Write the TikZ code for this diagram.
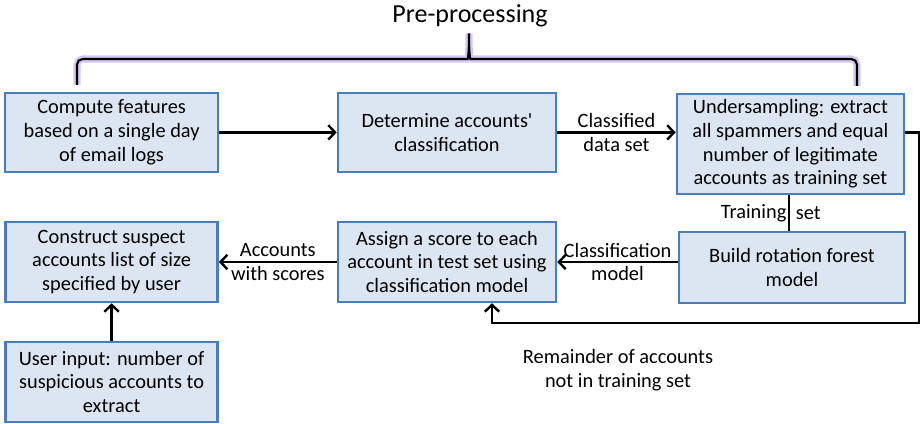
\documentclass[tikz,border=0pt]{standalone}
\usepackage{fontspec}
\setmainfont{Carlito}
\usetikzlibrary{arrows.meta}
\definecolor{boxfill}{HTML}{DCE6F2}
\definecolor{boxline}{HTML}{4A7EBB}
\definecolor{glow}{HTML}{B9A3E3}

\begin{document}
\begin{tikzpicture}[
    stepbox/.style={draw=boxline,fill=boxfill,line width=1.8pt,inner sep=0pt,
      align=center,font=\fontsize{14.5}{16.9}\selectfont},
    arr/.style={draw=black,line width=1.7pt,-{Straight Barb[length=1.7mm,width=3.6mm]}},
    link/.style={draw=black,line width=1.7pt},
    lbl/.style={align=center,font=\fontsize{14.5}{16.9}\selectfont}
  ]
  \useasboundingbox (0,0) rectangle (23,10.6);

  % ---- Pre-processing brace --------------------------------
  \node[font=\fontsize{18.5}{21}\selectfont] (pre) at (11.75,10.2) {Pre-processing};
  \draw[glow,line width=5pt,opacity=0.6,rounded corners=4pt]
    (1.925,8.475) -- (1.925,9.125) -- (11.55,9.125)
    .. controls (11.7,9.125) and (11.725,9.3) .. (11.725,9.85)
    .. controls (11.725,9.3) and (11.75,9.125) .. (11.9,9.125)
    -- (21.425,9.125) -- (21.425,8.45);
  \draw[black,line width=1.5pt,rounded corners=4pt]
    (1.925,8.475) -- (1.925,9.125) -- (11.55,9.125)
    .. controls (11.7,9.125) and (11.725,9.3) .. (11.725,9.85)
    .. controls (11.725,9.3) and (11.75,9.125) .. (11.9,9.125)
    -- (21.425,9.125) -- (21.425,8.45);

  % ---- Top row ---------------------------------------------
  \node[stepbox,minimum width=5.325cm,minimum height=1.975cm] (comp) at (2.79,7.29)
    {Compute features\\based on a single day\\of email logs};
  \node[stepbox,minimum width=5.45cm,minimum height=1.975cm] (det) at (11.175,7.29)
    {Determine accounts\textquotesingle\\classification};
  \node[stepbox,minimum width=5.675cm,minimum height=2.5cm] (under) at (19.76,7.0)
    {Undersampling: extract\\all spammers and equal\\number of legitimate\\accounts as training set};

  % ---- Middle row ------------------------------------------
  \node[stepbox,minimum width=5.3cm,minimum height=2.0cm] (constr) at (2.79,4.05)
    {Construct suspect\\accounts list of size\\specified by user};
  \node[stepbox,minimum width=5.45cm,minimum height=2.0cm] (assign) at (11.175,4.05)
    {Assign a score to each\\account in test set using\\classification model};
  \node[stepbox,minimum width=5.65cm,minimum height=1.775cm] (build) at (19.8,3.91)
    {Build rotation forest\\model};

  % ---- Bottom ----------------------------------------------
  \node[stepbox,minimum width=5.3cm,minimum height=2.0cm] (user) at (2.79,1.05)
    {User input: number of\\suspicious accounts to\\extract};

  % ---- Connectors ------------------------------------------
  \draw[arr] (comp.east) -- (det.west);
  \draw[arr] (det.east) -- (det.east -| under.west)
    node[lbl,midway] {Classified\\data set};
  \draw[link] (under.south -| 19.725,0) -- (build.north -| 19.725,0)
    node[lbl,midway,anchor=east,inner sep=1pt] {Training}
    node[lbl,midway,anchor=west,inner sep=4pt] {set};
  \draw[arr] (assign.east -| build.west) -- (assign.east)
    node[lbl,midway] {Classification\\model};
  \draw[arr] (assign.west) -- (constr.east)
    node[lbl,midway] {Accounts\\with scores};
  \draw[arr] (user.north) -- (constr.south);

  % return path for the rest of the accounts
  \coordinate (ret) at (12.3,2.525);
  \draw[arr] (under.east |- det.east) -- ++(0.35,0) |- (ret) -- (ret |- assign.south);
  \node[lbl] (rest) at (15.45,1.35) {Remainder of accounts\\not in training set};

\end{tikzpicture}
\end{document}
